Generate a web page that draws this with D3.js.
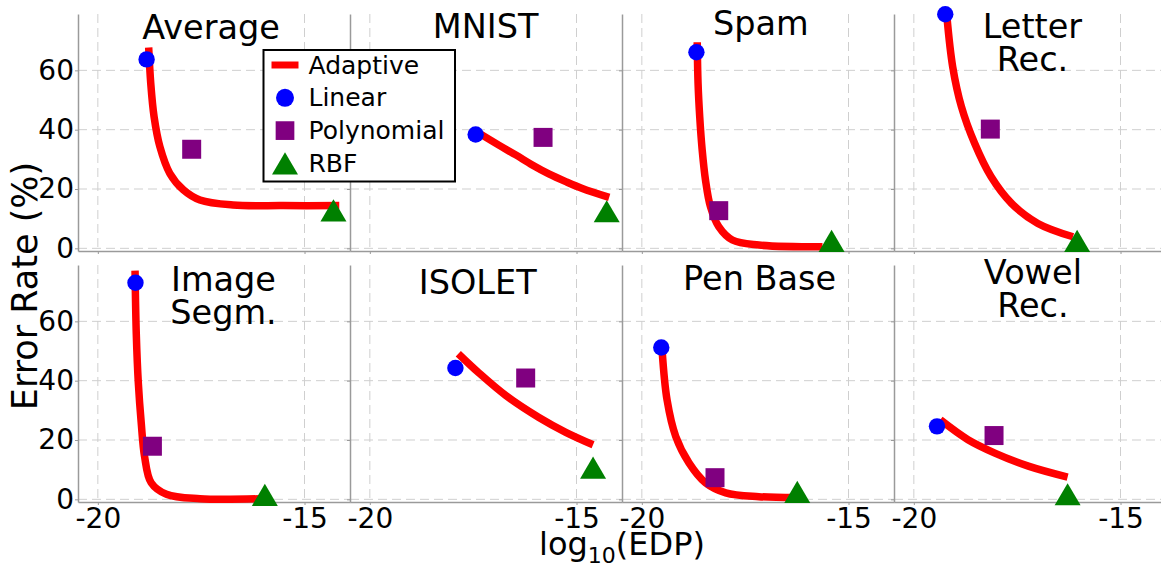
<!DOCTYPE html>
<html>
<head>
<meta charset="utf-8">
<script src="https://cdn.jsdelivr.net/npm/d3@7"></script>
<style>
    body { margin: 0; background: #fff; }
    svg { font-family: 'DejaVu Sans', sans-serif; }
</style>
</head>
<body>
<div id="chart"></div>
<script>
// panel titles (one entry per line) and where each title sits, in data units
const titles = [['Average'], ['MNIST'], ['Spam'], ['Letter', 'Rec.'],
                ['Image', 'Segm.'], ['ISOLET'], ['Pen Base'], ['Vowel', 'Rec.']];
const titleAt = [[-17.26, 70.6], [-17.20, 71.0], [-17.12, 71.9], [-17.13, 70.8],
                 [-16.96, 70.4], [-17.39, 69.2], [-17.15, 70.6], [-17.12, 72.6]];

// single classifiers: [log10(EDP), error %]
const linear = [[-18.82, 63.7], [-17.44, 38.4], [-18.68, 66.1], [-19.24, 78.9],
                [-19.09, 73.0], [-17.93, 44.3], [-19.53, 51.2], [-19.44, 24.6]];
const polynomial = [[-17.73, 33.4], [-15.81, 37.4], [-18.14, 12.7], [-18.15, 40.2],
                    [-18.68, 17.9], [-16.23, 40.9], [-18.23, 7.3], [-18.06, 21.5]];
const rbf = [[-14.30, 12.8], [-14.27, 12.5], [-15.41, 2.5], [-16.05, 2.5],
             [-15.96, 1.5], [-14.60, 10.7], [-16.24, 2.5], [-16.28, 1.7]];

// adaptive trade-off curves
const adaptive = [
    [[-18.77, 67.7], [-18.72, 55.6], [-18.64, 44.4], [-18.50, 34.3], [-18.26, 25.3],
     [-17.93, 19.7], [-17.53, 16.3], [-16.73, 14.6], [-15.52, 14.4], [-14.16, 14.4]],
    [[-17.32, 38.5], [-16.88, 34.8], [-16.47, 31.5], [-16.07, 28.1], [-15.67, 25.1],
     [-15.26, 22.5], [-14.86, 20.2], [-14.21, 17.2]],
    [[-18.66, 69.5], [-18.64, 55.6], [-18.60, 44.4], [-18.54, 33.1], [-18.46, 23.0],
     [-18.34, 14.0], [-18.14, 7.3], [-17.81, 2.8], [-17.17, 1.1], [-15.63, 0.5]],
    [[-19.20, 78.1], [-19.06, 61.2], [-18.85, 47.8], [-18.53, 35.4], [-18.13, 24.1],
     [-17.64, 15.2], [-17.00, 8.4], [-16.15, 3.9]],
    [[-19.10, 77.1], [-19.07, 55.8], [-19.02, 39.1], [-18.95, 25.7], [-18.87, 14.5],
     [-18.71, 5.6], [-18.34, 1.7], [-17.53, 0.2], [-16.08, 0.2]],
    [[-17.86, 49.1], [-17.36, 42.6], [-16.71, 35.0], [-15.91, 27.6], [-15.26, 22.6],
     [-14.60, 18.4]],
    [[-19.51, 50.3], [-19.39, 33.5], [-19.18, 21.2], [-18.86, 12.3], [-18.46, 5.6],
     [-17.97, 2.2], [-17.17, 0.9], [-16.28, 0.6]],
    [[-19.36, 26.8], [-18.69, 20.1], [-18.04, 15.6], [-17.23, 11.2], [-16.28, 7.5]]
];

const xTicks = [-20, -15];
const yTicks = [0, 20, 40, 60];
const legendLabels = ['Adaptive', 'Linear', 'Polynomial', 'RBF'];

const svgWidth = 1161, svgHeight = 567;
const panelW = 272, panelH = 237;
const left = 78;
const rowTop = [14, 265];

const colors = {adaptive: '#ff0000', linear: '#0000ff', poly: '#800080', rbf: '#008000'};
const spineColor = '#9a9a9a';
const gridColor = '#cfcfcf';

const svg = d3.select('#chart').append('svg')
    .attr('width', svgWidth)
    .attr('height', svgHeight);

const xScale = d3.scaleLinear().domain([-20.48, -13.9]).range([0, panelW]);
const yScale = d3.scaleLinear().domain([-0.9, 79]).range([panelH, 0]);

// matplotlib style '^' marker: box centred on the point
const triangleUp = {
    draw(ctx, size) {
        const s = Math.sqrt(size), h = s * 0.85 / 2;
        ctx.moveTo(0, -h);
        ctx.lineTo(s / 2, h);
        ctx.lineTo(-s / 2, h);
        ctx.closePath();
    }
};
const circleSym = d3.symbol().type(d3.symbolCircle).size(Math.PI * 8.2 * 8.2)();
const squareSym = d3.symbol().type(d3.symbolSquare).size(19 * 19)();
const triangleSym = d3.symbol().type(triangleUp).size(26 * 26)();

const lineGenerator = d3.line()
    .x(d => xScale(d[0]))
    .y(d => yScale(d[1]))
    .curve(d3.curveCatmullRom.alpha(0.5));   // smooth, passes through the read points

titles.forEach((title, i) => {
    const col = i % 4, row = Math.floor(i / 4);
    const g = svg.append('g')
        .attr('transform', `translate(${left + col * panelW},${rowTop[row]})`);

    // dashed grid
    g.selectAll('.vgrid').data(xTicks).enter().append('line')
        .attr('x1', d => xScale(d)).attr('x2', d => xScale(d))
        .attr('y1', 0).attr('y2', panelH)
        .attr('stroke', gridColor).attr('stroke-dasharray', '9,5');
    g.selectAll('.hgrid').data(yTicks).enter().append('line')
        .attr('x1', 0).attr('x2', panelW)
        .attr('y1', d => yScale(d)).attr('y2', d => yScale(d))
        .attr('stroke', gridColor).attr('stroke-dasharray', '9,5');

    const yAxis = d3.axisLeft(yScale)
        .tickValues(yTicks)
        .tickSize(3).tickSizeOuter(0).tickPadding(1)
        .tickFormat(col === 0 ? d => d.toString() : '');
    const xAxis = d3.axisBottom(xScale)
        .tickValues(xTicks)
        .tickSize(3).tickSizeOuter(0).tickPadding(3)
        .tickFormat(row === 1 ? d => d.toString() : '');

    const yAxisG = g.append('g').call(yAxis);
    const xAxisG = g.append('g').call(xAxis)
        .attr('transform', `translate(0,${panelH})`);

    [yAxisG, xAxisG].forEach(a => {
        a.attr('font-family', null).attr('font-size', null);
        a.select('.domain').attr('stroke', spineColor).attr('stroke-width', 1.5);
        a.selectAll('.tick line').attr('stroke', spineColor);
        a.selectAll('.tick text').attr('fill', 'black').style('font-size', '28px');
    });

    // adaptive curve, then the three single kernels on top
    g.append('path')
        .attr('d', lineGenerator(adaptive[i]))
        .attr('fill', 'none')
        .attr('stroke', colors.adaptive)
        .attr('stroke-width', 7.5);

    const marks = [[linear, circleSym, colors.linear],
                   [polynomial, squareSym, colors.poly],
                   [rbf, triangleSym, colors.rbf]];
    marks.forEach(([data, sym, c]) => {
        g.append('path')
            .attr('d', sym)
            .attr('fill', c)
            .attr('transform', `translate(${xScale(data[i][0])},${yScale(data[i][1])})`);
    });

    const t = g.append('text')
        .attr('x', xScale(titleAt[i][0]))
        .attr('y', yScale(titleAt[i][1]))
        .attr('text-anchor', 'middle')
        .style('font-size', '33.5px');
    title.forEach((line, k) => {
        t.append('tspan')
            .attr('x', xScale(titleAt[i][0]))
            .attr('dy', k === 0 ? 0 : 33)
            .text(line);
    });
});

// axis labels
svg.append('text')
    .attr('transform', 'translate(37,286) rotate(-90)')
    .attr('text-anchor', 'middle')
    .style('font-size', '35px')
    .text('Error Rate (%)');

const xLabel = svg.append('text')
    .attr('x', left + 2 * panelW)
    .attr('y', 555)
    .attr('text-anchor', 'middle')
    .style('font-size', '32px');
xLabel.append('tspan').text('log');
xLabel.append('tspan').attr('dy', 8).style('font-size', '22px').text('10');
xLabel.append('tspan').attr('dy', -8).text('(EDP)');

// legend, drawn last so it covers the grid of the second panel
const legend = svg.append('g').attr('transform', 'translate(263.5,50)');
legend.append('rect')
    .attr('width', 191.5).attr('height', 131.5)
    .attr('fill', 'white')
    .attr('stroke', 'black').attr('stroke-width', 2);

const rowStep = 32.8;
legend.append('line')
    .attr('x1', 8).attr('x2', 35)
    .attr('y1', 15).attr('y2', 15)
    .attr('stroke', colors.adaptive).attr('stroke-width', 7);
const legendSyms = [
    d3.symbol().type(d3.symbolCircle).size(Math.PI * 9 * 9)(),
    d3.symbol().type(d3.symbolSquare).size(18.7 * 18.7)(),
    d3.symbol().type(triangleUp).size(26 * 26)()
];
[[legendSyms[0], colors.linear], [legendSyms[1], colors.poly], [legendSyms[2], colors.rbf]]
    .forEach(([sym, c], k) => {
        legend.append('path')
            .attr('d', sym)
            .attr('fill', c)
            .attr('transform', `translate(21.5,${15 + (k + 1) * rowStep})`);
    });
legend.selectAll('.label').data(legendLabels).enter().append('text')
    .attr('x', 45)
    .attr('y', (d, k) => 15 + k * rowStep + 8.5)
    .style('font-size', '25px')
    .text(d => d);
</script>
</body>
</html>
